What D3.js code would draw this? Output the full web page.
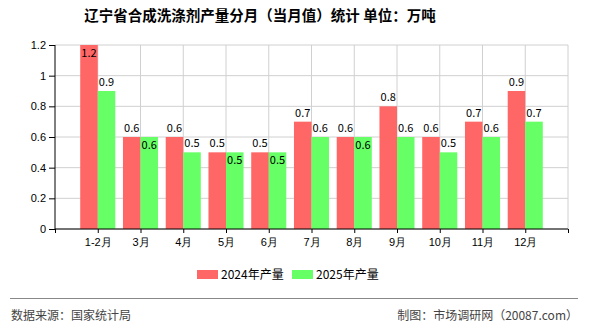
<!DOCTYPE html>
<html>
<head>
<meta charset="utf-8">
<script src="https://cdn.jsdelivr.net/npm/d3@7"></script>
<style>
    body { margin: 0; background: #fff; }
    svg { display: block; font-family: "Noto Sans CJK SC", "DejaVu Sans", sans-serif; }
    .axis path, .axis line { stroke: #000; }
    .axis text { font-size: 11px; fill: #000; }
    .grid line { stroke: #d0d0d0; }
</style>
</head>
<body>
<div id="chart"></div>
<script>
// data
let months = ["1-2月", "3月", "4月", "5月", "6月", "7月", "8月", "9月", "10月", "11月", "12月"];
let output2024 = [1.2, 0.6, 0.6, 0.5, 0.5, 0.7, 0.6, 0.8, 0.6, 0.7, 0.9];
let output2025 = [0.9, 0.6, 0.5, 0.5, 0.5, 0.6, 0.6, 0.6, 0.5, 0.6, 0.7];
let yTicks = [0, 0.2, 0.4, 0.6, 0.8, 1, 1.2];
let seriesNames = ["2024年产量", "2025年产量"];
let colors = ["#ff6666", "#66ff66"];

let width = 590, height = 330;
let margin = {top: 45, right: 22, bottom: 101, left: 55};
let innerW = width - margin.left - margin.right;
let innerH = height - margin.top - margin.bottom;

let svg = d3.select("#chart").append("svg")
    .attr("width", width)
    .attr("height", height);

// title
svg.append("text")
    .attr("x", 260)
    .attr("y", 21)
    .attr("text-anchor", "middle")
    .style("font-size", "14.5px")
    .style("font-weight", "bold")
    .text("辽宁省合成洗涤剂产量分月（当月值）统计  单位：万吨");

let g = svg.append("g")
    .attr("transform", `translate(${margin.left},${margin.top})`);

// x: one slot per month plus an empty slot on each side
let x = d3.scaleLinear()
    .domain([0, months.length + 1])
    .range([0, innerW]);
let y = d3.scaleLinear()
    .domain([0, 1.2])
    .range([innerH, 0]);

let slots = d3.range(months.length + 2);
let barW = x(1) - x(0);
barW = barW * 0.41;

// grid
g.append("g").attr("class", "grid")
    .selectAll("line.h").data(yTicks).enter().append("line")
    .attr("x1", 0).attr("x2", innerW)
    .attr("y1", d => y(d)).attr("y2", d => y(d));
g.select(".grid")
    .selectAll("line.v").data(slots.slice(1)).enter().append("line")
    .attr("x1", d => x(d)).attr("x2", d => x(d))
    .attr("y1", 0).attr("y2", innerH);

// bars
let rows = months.map((m, i) => ({m: m, i: i + 1, a: output2024[i], b: output2025[i]}));

g.selectAll(".bar24").data(rows).enter().append("rect")
    .attr("class", "bar24")
    .attr("x", d => x(d.i) - barW)
    .attr("y", d => y(d.a))
    .attr("width", barW)
    .attr("height", d => innerH - y(d.a))
    .attr("fill", colors[0]);

g.selectAll(".bar25").data(rows).enter().append("rect")
    .attr("class", "bar25")
    .attr("x", d => x(d.i))
    .attr("y", d => y(d.b))
    .attr("width", barW)
    .attr("height", d => innerH - y(d.b))
    .attr("fill", colors[1]);

// value labels
g.selectAll(".lab24").data(rows).enter().append("text")
    .attr("x", d => x(d.i) - barW / 2)
    .attr("y", d => d.a >= 1.2 ? y(d.a) + 12 : y(d.a) - 5)
    .attr("text-anchor", "middle")
    .style("font-size", "11px")
    .text(d => d.a);

g.selectAll(".lab25").data(rows).enter().append("text")
    .attr("x", d => x(d.i) + barW / 2)
    .attr("y", d => d.b === d.a ? y(d.b) + 12 : y(d.b) - 5)
    .attr("text-anchor", "middle")
    .style("font-size", "11px")
    .text(d => d.b);

// axes
let xAxis = d3.axisBottom(x)
    .tickValues(slots)
    .tickSize(4)
    .tickFormat(i => months[i - 1] || "");
g.append("g").attr("class", "axis")
    .attr("transform", `translate(0,${innerH})`)
    .call(xAxis)
    .call(a => a.select(".domain").attr("d", `M0,0H${innerW}`))
    .selectAll("text").attr("dy", "0.9em");

let yAxis = d3.axisLeft(y)
    .tickValues(yTicks)
    .tickSize(6)
    .tickFormat(d => d);
g.append("g").attr("class", "axis")
    .call(yAxis)
    .call(a => a.select(".domain").attr("d", `M0,0V${innerH}`));

// legend
let legend = svg.append("g").attr("transform", "translate(197,270)");
seriesNames.forEach((s, i) => {
    let lg = legend.append("g").attr("transform", `translate(${i * 95},0)`);
    lg.append("rect").attr("width", 21).attr("height", 9).attr("fill", colors[i]);
    lg.append("text").attr("x", 24).attr("y", 9)
        .style("font-size", "12px").text(s);
});

// footer
svg.append("line")
    .attr("x1", 10).attr("x2", 578)
    .attr("y1", 298.5).attr("y2", 298.5)
    .attr("stroke", "#888").attr("stroke-width", 1.2);
svg.append("text").attr("x", 11).attr("y", 320)
    .style("font-size", "12px").attr("fill", "#444")
    .text("数据来源：国家统计局");
svg.append("text").attr("x", 578).attr("y", 320)
    .attr("text-anchor", "end")
    .style("font-size", "12px").attr("fill", "#444")
    .text("制图：市场调研网（20087.com）");
</script>
</body>
</html>
